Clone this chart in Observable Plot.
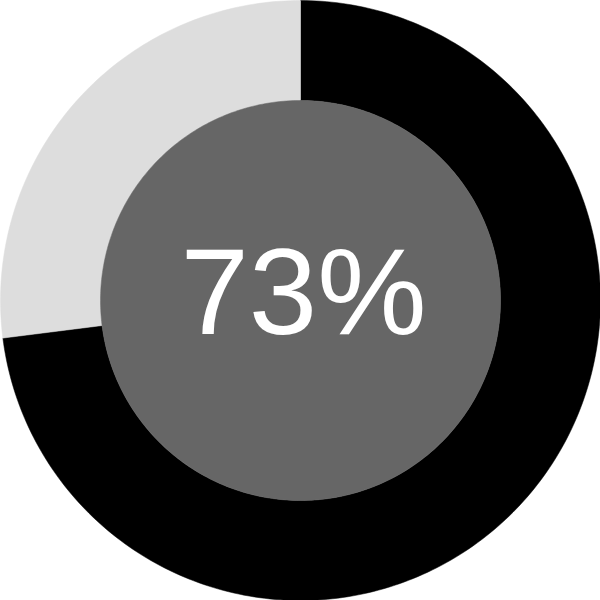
<!DOCTYPE html>
<html>
<head>
<meta charset="utf-8">
<script src="https://cdn.jsdelivr.net/npm/d3@7"></script>
<script src="https://cdn.jsdelivr.net/npm/@observablehq/plot@0.6"></script>
<style>
  html, body { margin: 0; padding: 0; background: white; }
  svg { display: block; }
</style>
</head>
<body>
<div id="chart"></div>
<script>
const segments = ["complete", "remaining"];
const values = [73, 27];
const segmentColors = ["#000000", "#dddddd"];
const centerLabel = "73%";
const holeColor = "#666666";
const innerRatio = 2 / 3;

const total = d3.sum(values);
const steps = 360;
const ringPoints = [];
let acc = 0;
segments.forEach((key, i) => {
  const a0 = (acc / total) * 2 * Math.PI;
  acc += values[i];
  const a1 = (acc / total) * 2 * Math.PI;
  const n = Math.max(2, Math.ceil(steps * (a1 - a0) / (2 * Math.PI)));
  const pts = [];
  for (let k = 0; k <= n; k++) {
    const a = a0 + (a1 - a0) * k / n;
    pts.push({key, x: Math.sin(a), y: Math.cos(a)});
  }
  for (let k = n; k >= 0; k--) {
    const a = a0 + (a1 - a0) * k / n;
    pts.push({key, x: innerRatio * Math.sin(a), y: innerRatio * Math.cos(a)});
  }
  pts.push(pts[0]);
  ringPoints.push(...pts);
});
const holePoints = d3.range(steps + 1).map(k => {
  const a = 2 * Math.PI * k / steps;
  return {x: innerRatio * Math.sin(a), y: innerRatio * Math.cos(a)};
});

const marks = segments.map((key, i) =>
  Plot.line(ringPoints.filter(d => d.key === key), {
    x: "x", y: "y", fill: segmentColors[i], stroke: segmentColors[i], strokeWidth: 0.5, curve: "linear"
  })
);
marks.push(Plot.line(holePoints, {x: "x", y: "y", fill: holeColor, stroke: holeColor, strokeWidth: 0.5}));
marks.push(Plot.text([centerLabel], {
  x: () => 0, y: () => 0, text: d => d, fill: "white",
  fontSize: 123, fontFamily: "Liberation Sans, Arial, sans-serif", textAnchor: "middle", dx: 3, dy: -6
}));

const chart = Plot.plot({
  width: 600, height: 600,
  margin: 0,
  x: {domain: [-1, 1], axis: null},
  y: {domain: [-1, 1], axis: null},
  marks
});
document.getElementById("chart").append(chart);
</script>
</body>
</html>
